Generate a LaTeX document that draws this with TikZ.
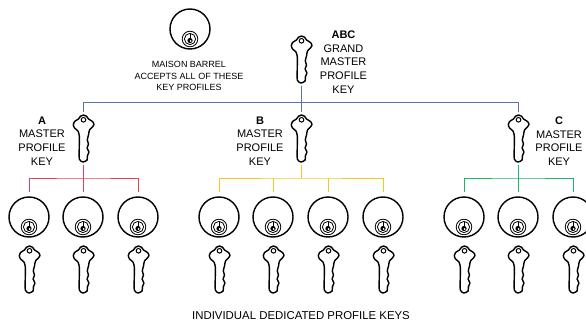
\documentclass[tikz,border=0pt]{standalone}
\usepackage{fontspec}
\setmainfont{Liberation Sans}
\tikzset{
  x=1pt,y=-1pt,
  keypic/.pic={
    \draw[line width=1.4pt,line join=round,fill=white] plot[smooth cycle,tension=.45] coordinates {
      (-3.7,44) (-3.7,30) (-3.7,21) (-5,16) (-8.5,13) (-9.7,9.5) (-8.5,6.5) (-4.5,4) (-2.5,1.2) (.5,0) (3.5,1.2) (5.5,4) (9.5,6.5) (11,9.5) (9.5,12)
      (6.5,15) (5.5,20) (4.3,25) (5.5,29) (4.1,33) (5.9,37) (4.3,41) (4.1,45) (0,47)};
    \draw[line width=1pt] (.5,4.8) circle (2.3);
  },
  cylpic/.pic={
    \draw[line width=.8pt] (0,10) circle (7.8);
    \draw[line width=.8pt] (0,10) circle (5.6);
    \fill (-.5,4.8) rectangle (.9,10);
    \fill (0,11.5) circle (2.6);
    \fill[white] (.5,12) circle (1);
  },
  keynode/.style={minimum width=20pt,minimum height=47pt,inner sep=0pt,outer sep=3pt},
  cylnode/.style={circle,draw,line width=1.4pt,minimum size=40pt,inner sep=0pt,outer sep=5pt},
  lbl/.style={align=center,font=\fontsize{11}{13.6}\selectfont,inner sep=0pt},
  smalltxt/.style={align=center,font=\fontsize{9}{11.5}\selectfont,inner sep=0pt},
  bus/.style={line width=.9pt},
}
\definecolor{busblue}{HTML}{5A73B8}
\definecolor{busred}{HTML}{E8414F}
\definecolor{busyellow}{HTML}{F6C81E}
\definecolor{busgreen}{HTML}{1FB36C}
\newcommand{\keyat}[3]{\node[keynode] (#1) at (#2,#3+23.5) {}; \pic at (#2,#3) {keypic};}
\newcommand{\cylat}[3]{\node[cylnode] (#1) at (#2,#3) {}; \pic at (#1) {cylpic};}
\begin{document}
\begin{tikzpicture}
\useasboundingbox (0,0) rectangle (586,323);
% keys and cylinders
\keyat{kABC}{301}{36}
\keyat{kA}{83}{115}
\keyat{kB}{301}{115}
\keyat{kC}{518}{115}
\cylat{cTop}{190}{29}
\foreach \n/\x in {A1/29,A2/83,A3/138,B1/219,B2/273,B3/328,B4/383,C1/464,C2/518,C3/573}{
  \cylat{c\n}{\x}{217}
  \keyat{k\n}{\x}{246}
}
% junctions
\coordinate (jBlue) at (301,102.5);
\coordinate (jRed) at (83,178);
\coordinate (jYellow) at (301,178);
\coordinate (jGreen) at (518,178);
% connectors
\draw[bus,busblue] (kA.north) |- (jBlue) -| (kC.north);
\draw[bus,busblue] (kABC.south) -- (kB.north);
\draw[bus,busred] (cA1.north) |- (jRed) -| (cA3.north);
\draw[bus,busred] (kA.south) -- (cA2.north);
\draw[bus,busyellow] (cB1.north) |- (jYellow) -| (cB4.north);
\draw[bus,busyellow] (kB.south) -- (jYellow);
\draw[bus,busyellow] (cB2.north) -- (cB2.north |- jYellow);
\draw[bus,busyellow] (cB3.north) -- (cB3.north |- jYellow);
\draw[bus,busgreen] (cC1.north) |- (jGreen) -| (cC3.north);
\draw[bus,busgreen] (kC.south) -- (cC2.north);
% labels
\node[lbl] (tABC) at (343.5,62) {\textbf{ABC}\\GRAND\\MASTER\\PROFILE\\KEY};
\node[lbl] (tA) at (42,141) {\textbf{A}\\MASTER\\PROFILE\\KEY};
\node[lbl] (tB) at (260,141) {\textbf{B}\\MASTER\\PROFILE\\KEY};
\node[lbl] (tC) at (559,141) {\textbf{C}\\MASTER\\PROFILE\\KEY};
\node[smalltxt] (tBarrel) at (189,76) {MAISON BARREL\\ACCEPTS ALL OF THESE\\KEY PROFILES};
\node[inner sep=0pt,font=\fontsize{11.4}{13}\selectfont] (tBottom) at (301,316) {INDIVIDUAL DEDICATED PROFILE KEYS};
\end{tikzpicture}
\end{document}
